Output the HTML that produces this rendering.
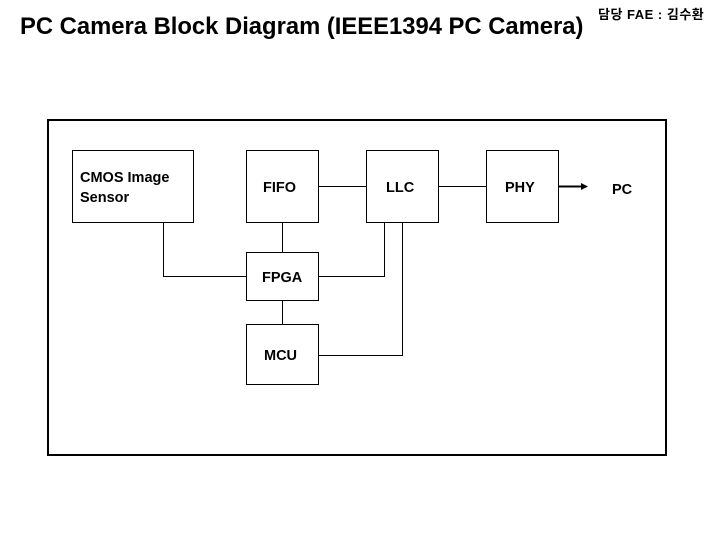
<!DOCTYPE html>
<html><head><meta charset="utf-8"><style>
body{margin:0;background:#fff;width:720px;height:540px;overflow:hidden;position:relative;font-family:"Liberation Sans","Noto Sans CJK KR",sans-serif}
.t{position:absolute;white-space:nowrap}
</style></head><body>
<div class="t" style="left:20px;top:13px;font-size:23.8px;font-weight:bold">PC Camera Block Diagram (IEEE1394 PC Camera)</div>
<div class="t" style="left:598px;top:4px;font-size:13px;font-weight:bold;letter-spacing:0.5px">담당 FAE : 김수환</div>
<svg width="720" height="540" style="position:absolute;left:0;top:0" font-family="Liberation Sans, sans-serif" font-size="14.5" font-weight="bold">
<rect x="48" y="120" width="618" height="335" fill="none" stroke="#000" stroke-width="2"/>
<g fill="none" stroke="#000" stroke-width="1">
<rect x="72.5" y="150.5" width="121" height="72"/>
<rect x="246.5" y="150.5" width="72" height="72"/>
<rect x="366.5" y="150.5" width="72" height="72"/>
<rect x="486.5" y="150.5" width="72" height="72"/>
<rect x="246.5" y="252.5" width="72" height="48"/>
<rect x="246.5" y="324.5" width="72" height="60"/>
<polyline points="163.5,222.5 163.5,276.5 246.5,276.5"/>
<line x1="282.5" y1="222.5" x2="282.5" y2="252.5"/>
<line x1="282.5" y1="300.5" x2="282.5" y2="324.5"/>
<line x1="318.5" y1="186.5" x2="366.5" y2="186.5"/>
<line x1="438.5" y1="186.5" x2="486.5" y2="186.5"/>
<polyline points="318.5,276.5 384.5,276.5 384.5,222.5"/>
<polyline points="318.5,355.5 402.5,355.5 402.5,222.5"/>
</g>
<line x1="558" y1="186.5" x2="584" y2="186.5" stroke="#000" stroke-width="2"/>
<polygon points="588,186.5 581,183 581,190" fill="#000"/>
<text x="80" y="182">CMOS Image</text>
<text x="80" y="202">Sensor</text>
<text x="263" y="192">FIFO</text>
<text x="386" y="192">LLC</text>
<text x="505" y="192">PHY</text>
<text x="262" y="282">FPGA</text>
<text x="264" y="360">MCU</text>
<text x="612" y="194">PC</text>
</svg>
</body></html>
